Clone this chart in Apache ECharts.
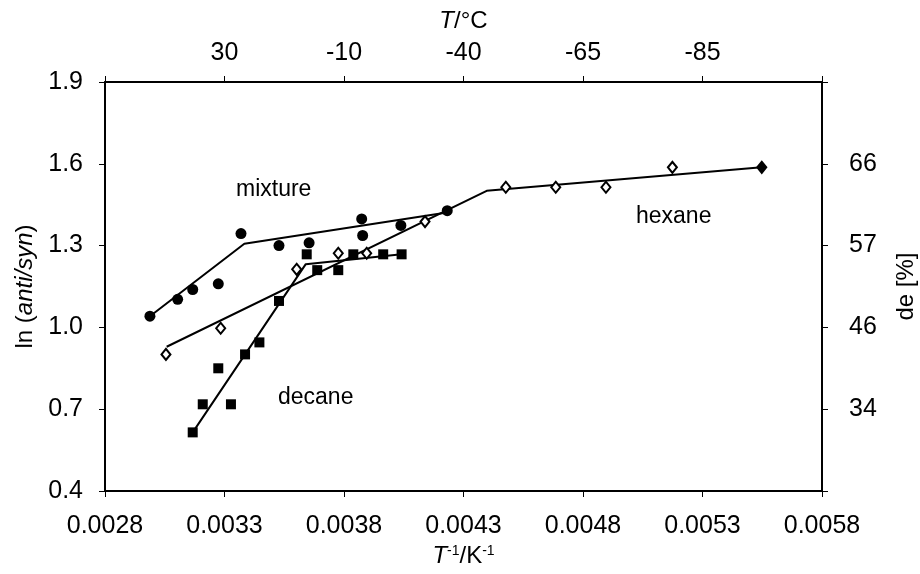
<!DOCTYPE html>
<html>
<head>
<meta charset="utf-8">
<script src="https://cdn.jsdelivr.net/npm/echarts@6/dist/echarts.min.js"></script>
<style>
  html, body { margin: 0; padding: 0; background: #fff; }
  #chart { width: 920px; height: 574px; }
</style>
</head>
<body>
<div id="chart"></div>
<script>
// measured points, [1/T, ln(anti/syn)]
var mixturePts = [
  [0.002988, 1.041], [0.003104, 1.103], [0.003167, 1.139], [0.003274, 1.160],
  [0.003369, 1.344], [0.003528, 1.300], [0.003654, 1.310], [0.003874, 1.398],
  [0.003878, 1.337], [0.004038, 1.374], [0.004232, 1.428]
];
var decanePts = [
  [0.003167, 0.615], [0.003209, 0.718], [0.003327, 0.718], [0.003274, 0.850],
  [0.003386, 0.901], [0.003446, 0.945], [0.003528, 1.097], [0.003644, 1.268],
  [0.003688, 1.210], [0.003776, 1.210], [0.003839, 1.268], [0.003964, 1.268],
  [0.004041, 1.268]
];
var hexanePts = [
  [0.003055, 0.901], [0.003284, 0.997], [0.003602, 1.213], [0.003776, 1.272],
  [0.003895, 1.272], [0.004139, 1.388], [0.004477, 1.514], [0.004686, 1.514],
  [0.004896, 1.514], [0.005174, 1.587], [0.005548, 1.587]
];
// fitted trend lines (break points)
var mixtureFit = [[0.002988, 1.041], [0.003383, 1.307], [0.004231, 1.421]];
var decaneFit = [[0.003167, 0.615], [0.003640, 1.232], [0.004041, 1.268]];
var hexaneFit = [[0.003058, 0.929], [0.004397, 1.501], [0.005548, 1.587]];

// tick labels of the secondary axes
var celsiusLabels = ["", "30", "-10", "-40", "-65", "-85", ""];
var deLabels = ["", "34", "46", "57", "66", ""];

var font = "'Liberation Sans', Arial, sans-serif";
var black = "#000";

var myChart = echarts.init(document.getElementById("chart"));

function fitLine(data) {
  return {
    type: "line",
    data: data,
    symbol: "none",
    silent: true,
    z: 2,
    lineStyle: { color: black, width: 2 }
  };
}

var axisBase = {
  axisLine: { show: true, lineStyle: { color: black, width: 2 } },
  axisTick: { show: true, inside: false, length: 6, lineStyle: { color: black, width: 1 } },
  splitLine: { show: false },
  axisLabel: { color: black, fontSize: 25, fontFamily: font },
  nameTextStyle: { color: black, fontSize: 24, fontFamily: font }
};

function merge(a, b) {
  var o = {};
  for (var k in a) o[k] = a[k];
  for (var k2 in b) o[k2] = b[k2];
  return o;
}

myChart.setOption({
  backgroundColor: "#fff",
  animation: false,
  grid: { left: 105, right: 98, top: 82, bottom: 83, containLabel: false, outerBoundsMode: "none" },
  xAxis: [
    merge(axisBase, {
      type: "value",
      position: "bottom",
      min: 0.0028,
      max: 0.0058,
      interval: 0.0005,
      name: "{i|T}{s|-1}/K{s|-1}",
      nameLocation: "middle",
      nameGap: 53,
      nameTextStyle: {
        color: black, fontSize: 24, fontFamily: font,
        rich: {
          i: { fontSize: 24, fontStyle: "italic", fontFamily: font, color: black },
          s: { fontSize: 14, fontFamily: font, color: black, verticalAlign: "top", padding: [0, 0, 10, 0] }
        }
      },
      axisLabel: {
        color: black, fontSize: 25, fontFamily: font, margin: 23,
        formatter: function (v) { return v.toFixed(4); }
      }
    }),
    merge(axisBase, {
      type: "value",
      position: "top",
      min: 0.0028,
      max: 0.0058,
      interval: 0.0005,
      name: "{i|T}/°C",
      nameLocation: "middle",
      nameGap: 49,
      nameTextStyle: {
        color: black, fontSize: 24, fontFamily: font,
        rich: { i: { fontSize: 24, fontStyle: "italic", fontFamily: font, color: black } }
      },
      axisLabel: {
        color: black, fontSize: 25, fontFamily: font, margin: 16,
        formatter: function (v) {
          return celsiusLabels[Math.round((v - 0.0028) / 0.0005)] || "";
        }
      }
    })
  ],
  yAxis: [
    merge(axisBase, {
      type: "value",
      position: "left",
      min: 0.4,
      max: 1.9,
      interval: 0.3,
      name: "ln ({i|anti/syn})",
      nameLocation: "middle",
      nameRotate: 90,
      nameGap: 67,
      nameTextStyle: {
        color: black, fontSize: 24, fontFamily: font,
        rich: { i: { fontSize: 24, fontStyle: "italic", fontFamily: font, color: black } }
      },
      axisLabel: {
        color: black, fontSize: 25, fontFamily: font, margin: 22,
        formatter: function (v) { return v.toFixed(1); }
      }
    }),
    merge(axisBase, {
      type: "value",
      position: "right",
      min: 0.4,
      max: 1.9,
      interval: 0.3,
      name: "de [%]",
      nameLocation: "middle",
      nameRotate: 90,
      nameGap: 72,
      axisLabel: {
        color: black, fontSize: 25, fontFamily: font, margin: 27,
        formatter: function (v) {
          return deLabels[Math.round((v - 0.4) / 0.3)] || "";
        }
      }
    })
  ],
  graphic: [
    { type: "text", left: 236, top: 178, style: { text: "mixture", fontSize: 23, fontFamily: font, fill: black } },
    { type: "text", left: 636, top: 205, style: { text: "hexane", fontSize: 23, fontFamily: font, fill: black } },
    { type: "text", left: 278, top: 386, style: { text: "decane", fontSize: 23, fontFamily: font, fill: black } }
  ],
  series: [
    fitLine(mixtureFit),
    fitLine(decaneFit),
    fitLine(hexaneFit),
    {
      name: "mixture",
      type: "scatter",
      data: mixturePts,
      symbol: "circle",
      symbolSize: 11,
      z: 3,
      itemStyle: { color: black, opacity: 1 }
    },
    {
      name: "decane",
      type: "scatter",
      data: decanePts,
      symbol: "rect",
      symbolSize: 10,
      z: 3,
      itemStyle: { color: black, opacity: 1 }
    },
    {
      name: "hexane",
      type: "scatter",
      data: hexanePts.map(function (p, i) {
        // last point is drawn solid in the original
        if (i == hexanePts.length - 1) {
          return { value: p, itemStyle: { color: black } };
        }
        return p;
      }),
      symbol: "diamond",
      symbolSize: [9, 11],
      z: 3,
      itemStyle: { color: "#fff", borderColor: black, borderWidth: 2, opacity: 1 }
    }
  ]
});
</script>
</body>
</html>
